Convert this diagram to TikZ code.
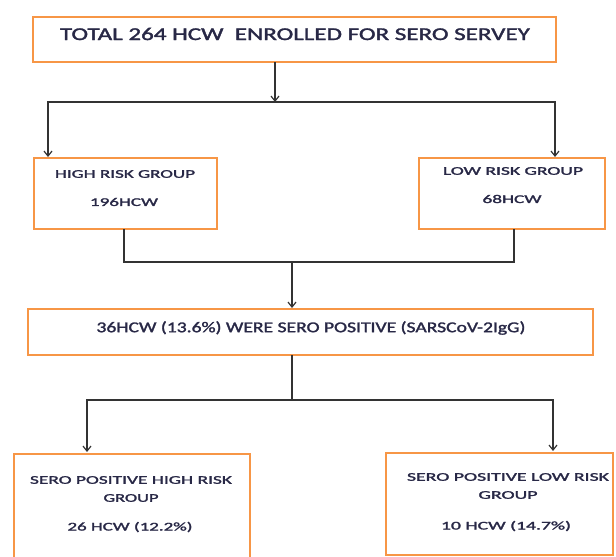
\documentclass[tikz,border=0pt]{standalone}
\usepackage{fontspec}
\usepackage{graphicx}
\setmainfont{Carlito}
\newfontfamily\lblfont{Carlito}[FakeBold=1.6]
\usetikzlibrary{arrows.meta}
\definecolor{boxorange}{RGB}{247,150,70}
\definecolor{txt}{RGB}{40,40,70}
\newcommand{\fitw}[2]{\resizebox{#1}{\height}{#2}}
\begin{document}
\begin{tikzpicture}[x=1pt,y=-1pt,
  box/.style={draw=boxorange,line width=2.6pt},
  conn/.style={draw=black!80,line width=1.3pt},
  arr/.style={conn,-{Straight Barb[length=5pt,width=8pt,line width=1.2pt]}},
  big/.style={text=txt,inner sep=0pt,font=\lblfont\fontsize{18}{20}\selectfont},
  mid/.style={text=txt,inner sep=0pt,font=\lblfont\fontsize{15}{17}\selectfont},
  small/.style={text=txt,inner sep=0pt,font=\lblfont\fontsize{11.8}{14}\selectfont}]
\useasboundingbox (0,0) rectangle (616,557);
\clip (0,0) rectangle (616,557);
% boxes
\draw[box] (33,17) rectangle (556,62);
\coordinate (topB) at (275,62);
\draw[box] (34,158) rectangle (217,229);
\draw[box] (419,158) rectangle (605,229);
\coordinate (hiB) at (124,229);
\coordinate (loB) at (514,229);
\coordinate (hiT) at (48,157);
\coordinate (loT) at (555,157);
\draw[box] (28,309) rectangle (593,355);
\coordinate (midT) at (292,308);
\coordinate (midB) at (292,355);
\draw[box] (14,565) -- (14,454) -- (250,454) -- (250,565);
\draw[box] (386,453) rectangle (613,555);
\coordinate (blT) at (87,452);
\coordinate (brT) at (553,451);
% texts
\node[big] (t0) at (295,34) {\fitw{470pt}{TOTAL 264 HCW\ \ ENROLLED FOR SERO SERVEY}};
\node[small] (t1) at (125,174) {\fitw{140pt}{HIGH RISK GROUP}};
\node[small] (t2) at (124,202) {\fitw{68pt}{196HCW}};
\node[small] (t3) at (513,171) {\fitw{140pt}{LOW RISK GROUP}};
\node[small] (t4) at (512,199) {\fitw{59pt}{68HCW}};
\node[mid] (t5) at (311,328) {\fitw{429pt}{36HCW (13.6\%) WERE SERO POSITIVE (SARSCoV-2IgG)}};
\node[small] (t6) at (131,480) {\fitw{202pt}{SERO POSITIVE HIGH RISK}};
\node[small] (t7) at (131,498) {\fitw{55pt}{GROUP}};
\node[small] (t8) at (130,527) {\fitw{125pt}{26 HCW (12.2\%)}};
\node[small] (t9) at (508,477) {\fitw{202pt}{SERO POSITIVE LOW RISK}};
\node[small] (t10) at (508,495) {\fitw{59pt}{GROUP}};
\node[small] (t11) at (506,526) {\fitw{130pt}{10 HCW (14.7\%)}};
% connectors
\coordinate (j1) at (275,102);
\draw[arr] (topB) -- (j1);
\draw[arr] (j1) -| (hiT);
\draw[arr] (j1) -| (loT);
\coordinate (j2) at (292,262);
\draw[conn] (hiB) |- (j2) -| (loB);
\draw[arr] (j2) -- (midT);
\coordinate (j3) at (292,400);
\draw[conn] (midB) -- (j3);
\draw[arr] (j3) -| (blT);
\draw[arr] (j3) -| (brT);
\end{tikzpicture}
\end{document}
